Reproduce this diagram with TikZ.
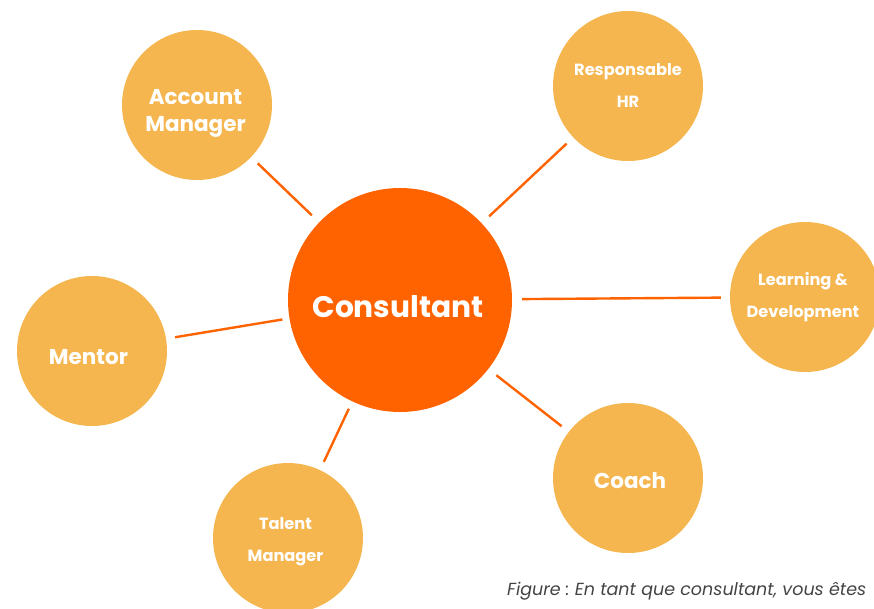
\documentclass[tikz,border=0pt]{standalone}
\usepackage{fontspec}
\setmainfont{Poppins}
\frenchspacing
\definecolor{bigor}{HTML}{FF6300}
\definecolor{smallor}{HTML}{F5B54F}
\definecolor{captiongray}{HTML}{444444}
% move the ink of a line by (dx/2, dy) without changing its box
\newcommand{\mvline}[3]{\raisebox{#2}[\height][\depth]{\kern#1\relax #3}}
\begin{document}
\begin{tikzpicture}[x=1pt,y=-1pt,
  hub/.style={circle,fill=bigor,draw=none,minimum size=224pt,inner sep=0pt,text=white,
    font=\fontsize{29.7}{32}\selectfont\bfseries},
  sat/.style={circle,fill=smallor,draw=none,minimum size=150pt,inner sep=0pt,text=white,align=center},
  big/.style={font=\fontsize{21.5}{27}\selectfont\bfseries},
  small/.style={font=\fontsize{16.2}{32}\selectfont\bfseries},
  conn/.style={draw=bigor,line width=2.4pt,shorten <=9pt,shorten >=10pt}]
\useasboundingbox (0,0) rectangle (874,608);
\clip (0,0) rectangle (874,608);
\node[hub] (cons) at (400,300) {\mvline{-4pt}{-7pt}{Consultant}};
\node[sat,big] (acc) at (197,105) {\mvline{-3pt}{-8pt}{Account}\\\mvline{-3pt}{-8pt}{Manager}};
\node[sat,small] (resp) at (628,86) {Responsable\\HR};
\node[sat,small] (learn) at (805,297) {\mvline{-4pt}{0pt}{Learning \&}\\\mvline{-4pt}{0pt}{Development}};
\node[sat,big] (ment) at (92,351) {\mvline{-7pt}{-6pt}{Mentor}};
\node[sat,small] (tal) at (288,538) {\mvline{-5pt}{-4pt}{Talent}\\\mvline{-5pt}{-4pt}{Manager}};
\node[sat,big] (coach) at (628,478) {\mvline{0pt}{-3pt}{Coach}\kern-4pt};
\draw[conn] (acc) -- (cons);
\draw[conn] (resp) -- (cons);
\draw[conn] (learn) -- (cons);
\draw[conn,shorten >=7pt] (ment) -- (cons);
\draw[conn,shorten >=8pt] (tal) -- (cons);
\draw[conn] (coach) -- (cons);
\node[anchor=west,inner sep=0pt,text=captiongray,font=\fontsize{17.5}{20}\selectfont\itshape] (cap) at (507,591) {Figure : En tant que consultant, vous êtes};
\end{tikzpicture}
\end{document}
